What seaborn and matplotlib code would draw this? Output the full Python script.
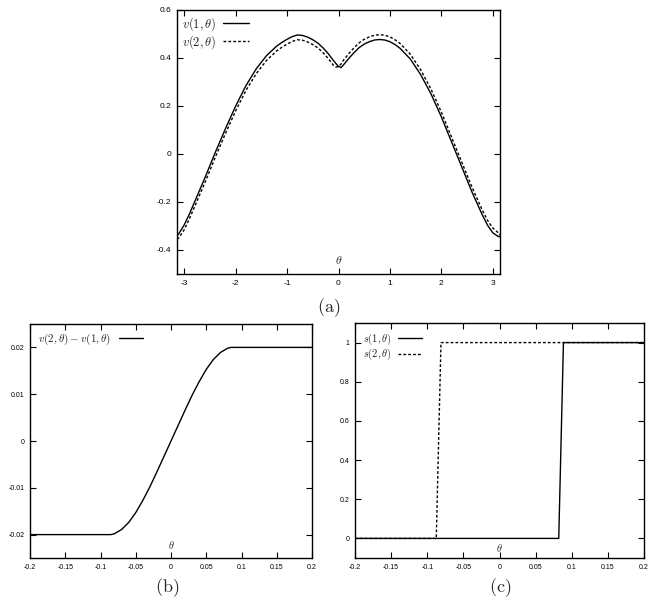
import numpy as np
import pandas as pd
import seaborn as sns
import matplotlib
matplotlib.use('Agg')
import matplotlib.pyplot as plt

# panel (a): v(1,theta) and v(2,theta)
theta_a = [-3.1416, -3.1, -3.0, -2.9, -2.8, -2.6, -2.4, -2.2, -2.0, -1.8, -1.6, -1.4, -1.2, -1.1, -1.0,
           -0.9, -0.8, -0.7, -0.6, -0.5, -0.4, -0.3, -0.2, -0.1, -0.05, 0.0, 0.05, 0.1, 0.2, 0.3,
           0.4, 0.5, 0.6, 0.7, 0.8, 0.9, 1.0, 1.1, 1.2, 1.4, 1.6, 1.8, 2.0, 2.2, 2.4,
           2.6, 2.8, 2.9, 3.0, 3.1, 3.1416]
v1 = [-0.342, -0.33, -0.295, -0.25, -0.2, -0.1, 0.005, 0.105, 0.2, 0.285, 0.355, 0.41, 0.45, 0.465, 0.478,
      0.489, 0.496, 0.494, 0.487, 0.476, 0.462, 0.442, 0.418, 0.39, 0.377, 0.365, 0.36, 0.372, 0.398, 0.422,
      0.443, 0.458, 0.468, 0.475, 0.477, 0.475, 0.468, 0.456, 0.44, 0.395, 0.33, 0.25, 0.155, 0.05, -0.055,
      -0.16, -0.255, -0.297, -0.328, -0.343, -0.345]
v2 = [-0.355, -0.348, -0.315, -0.27, -0.22, -0.12, -0.015, 0.085, 0.18, 0.265, 0.335, 0.39, 0.43, 0.445, 0.458,
      0.469, 0.476, 0.474, 0.467, 0.456, 0.442, 0.422, 0.398, 0.37, 0.362, 0.365, 0.375, 0.392, 0.418, 0.442,
      0.463, 0.478, 0.488, 0.495, 0.497, 0.495, 0.488, 0.476, 0.46, 0.415, 0.35, 0.27, 0.175, 0.07, -0.035,
      -0.14, -0.235, -0.277, -0.308, -0.327, -0.338]

# panel (b): v(2,theta) - v(1,theta)
theta_b = [-0.2, -0.085, -0.08, -0.07, -0.06, -0.05, -0.04, -0.03, -0.02, -0.01, 0.0,
           0.01, 0.02, 0.03, 0.04, 0.05, 0.06, 0.07, 0.08, 0.085, 0.2]
diff_b = [-0.02, -0.02, -0.0198, -0.0189, -0.0174, -0.0153, -0.0127, -0.0098, -0.0066, -0.0033, 0.0,
          0.0033, 0.0066, 0.0098, 0.0127, 0.0153, 0.0174, 0.0189, 0.0198, 0.02, 0.02]

# panel (c): s(1,theta), s(2,theta)
theta_s1 = [-0.2, 0.082, 0.0885, 0.2]
s1 = [0, 0, 1, 1]
theta_s2 = [-0.2, -0.0875, -0.081, 0.2]
s2 = [0, 0, 1, 1]

xticks_a = [-3, -2, -1, 0, 1, 2, 3]
yticks_a = [-0.4, -0.2, 0, 0.2, 0.4, 0.6]
yticklabels_a = ['-0.4', '-0.2', '0', '0.2', '0.4', '0.6']
xticks_bc = [-0.2, -0.15, -0.1, -0.05, 0, 0.05, 0.1, 0.15, 0.2]
xticklabels_bc = ['-0.2', '-0.15', '-0.1', '-0.05', '0', '0.05', '0.1', '0.15', '0.2']
yticks_b = [-0.02, -0.01, 0, 0.01, 0.02]
yticklabels_b = ['-0.02', '-0.01', '0', '0.01', '0.02']
yticks_c = [0, 0.2, 0.4, 0.6, 0.8, 1]
yticklabels_c = ['0', '0.2', '0.4', '0.6', '0.8', '1']

sns.set_style('ticks')
plt.rcParams['font.family'] = ['Liberation Sans', 'DejaVu Sans']
plt.rcParams['mathtext.fontset'] = 'cm'
plt.rcParams['axes.unicode_minus'] = False

W, H = 656, 606
fig = plt.figure(figsize=(W / 100, H / 100), dpi=100)


def box(l, t, r, b):
    return [l / W, 1 - b / H, (r - l) / W, (b - t) / H]


def style(ax, tsize):
    for s in ax.spines.values():
        s.set_linewidth(1.0)
        s.set_color('black')
    ax.tick_params(direction='in', top=True, right=True, length=4, width=0.8,
                   labelsize=tsize, colors='black', pad=4)
    ax.set_xlabel('')
    ax.set_ylabel('')


dash = (2, 1.5)

# (a)
ax1 = fig.add_axes(box(177, 10, 500, 274))
dfa = pd.DataFrame({'theta': theta_a, 'v1': v1, 'v2': v2})
sns.lineplot(data=dfa, x='theta', y='v1', ax=ax1, color='black', lw=1.0, sort=False,
             estimator=None, label=r'$v(1,\theta)$')
sns.lineplot(data=dfa, x='theta', y='v2', ax=ax1, color='black', lw=1.0, sort=False,
             estimator=None, label=r'$v(2,\theta)$')
ax1.lines[1].set_dashes(dash)
ax1.set_xlim(-np.pi, np.pi)
ax1.set_ylim(-0.5, 0.6)
ax1.set_xticks(xticks_a)
ax1.set_xticklabels([str(t) for t in xticks_a])
ax1.set_yticks(yticks_a)
ax1.set_yticklabels(yticklabels_a)
style(ax1, 6)
ax1.text(0.5, 0.05, r'$\theta$', transform=ax1.transAxes, ha='center', va='center', fontsize=8.5)
ax1.legend(loc='upper left', frameon=False, markerfirst=False, fontsize=9, handlelength=2.1,
           handletextpad=0.5, labelspacing=0.05, borderaxespad=0.2, borderpad=0.2)

# (b)
ax2 = fig.add_axes(box(30, 324, 312, 558))
dfb = pd.DataFrame({'theta': theta_b, 'diff': diff_b})
sns.lineplot(data=dfb, x='theta', y='diff', ax=ax2, color='black', lw=1.0, sort=False,
             estimator=None, label=r'$v(2,\theta)-v(1,\theta)$')
ax2.set_xlim(-0.2, 0.2)
ax2.set_ylim(-0.025, 0.025)
ax2.set_xticks(xticks_bc)
ax2.set_xticklabels(xticklabels_bc)
ax2.set_yticks(yticks_b)
ax2.set_yticklabels(yticklabels_b)
style(ax2, 5)
ax2.text(0.5, 0.056, r'$\theta$', transform=ax2.transAxes, ha='center', va='center', fontsize=7.5)
ax2.legend(loc='upper left', frameon=False, markerfirst=False, fontsize=8, handlelength=2.2,
           handletextpad=0.7, borderaxespad=0.3, borderpad=0.4)

# (c)
ax3 = fig.add_axes(box(355, 323, 644, 558))
df1 = pd.DataFrame({'theta': theta_s1, 's': s1})
df2 = pd.DataFrame({'theta': theta_s2, 's': s2})
sns.lineplot(data=df1, x='theta', y='s', ax=ax3, color='black', lw=1.0, sort=False,
             estimator=None, label=r'$s(1,\theta)$')
sns.lineplot(data=df2, x='theta', y='s', ax=ax3, color='black', lw=1.0, sort=False,
             estimator=None, label=r'$s(2,\theta)$')
ax3.lines[1].set_dashes(dash)
ax3.set_xlim(-0.2, 0.2)
ax3.set_ylim(-0.1, 1.1)
ax3.set_xticks(xticks_bc)
ax3.set_xticklabels(xticklabels_bc)
ax3.set_yticks(yticks_c)
ax3.set_yticklabels(yticklabels_c)
style(ax3, 5)
ax3.text(0.5, 0.043, r'$\theta$', transform=ax3.transAxes, ha='center', va='center', fontsize=7.5)
ax3.legend(loc='upper left', frameon=False, markerfirst=False, fontsize=7.5, handlelength=2.3,
           handletextpad=0.6, labelspacing=0.05, borderaxespad=0.3, borderpad=0.5)

fig.text(329 / W, 1 - 308 / H, r'$\mathrm{(a)}$', ha='center', va='center', fontsize=13)
fig.text(167 / W, 1 - 588 / H, r'$\mathrm{(b)}$', ha='center', va='center', fontsize=13)
fig.text(500 / W, 1 - 588 / H, r'$\mathrm{(c)}$', ha='center', va='center', fontsize=13)

fig.savefig('out.png', dpi=100)
